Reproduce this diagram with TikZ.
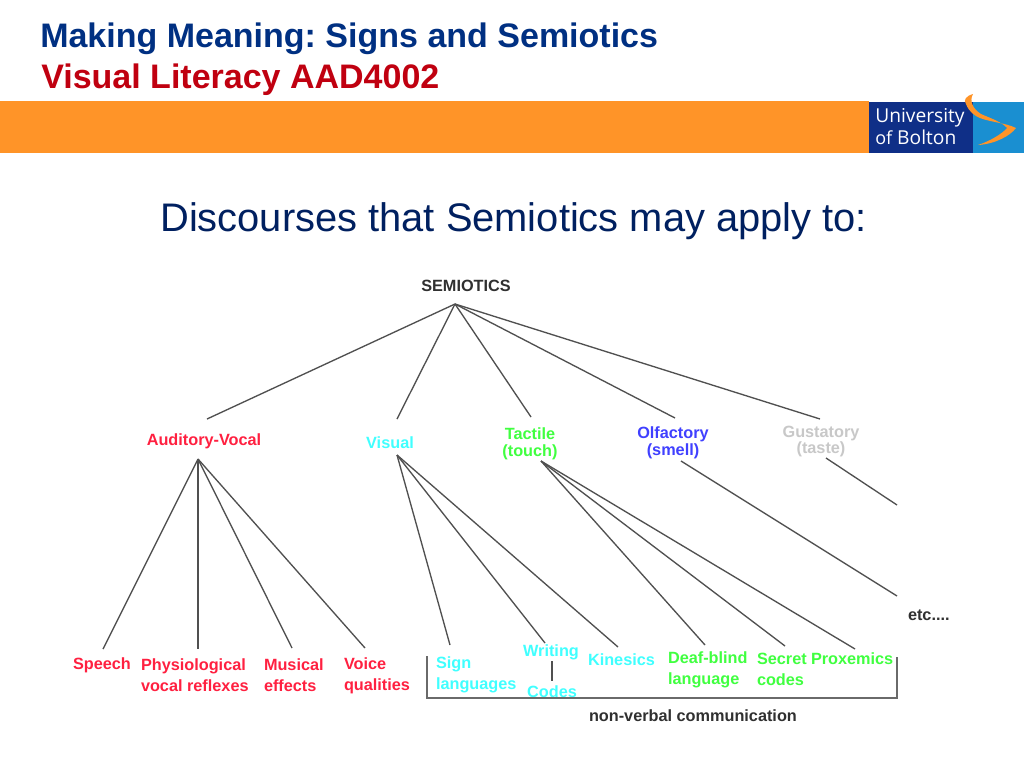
\documentclass[tikz,border=0pt]{standalone}
\usepackage{fontspec}
\setmainfont{Liberation Sans}
\newfontfamily\logofont{Open Sans}
\frenchspacing
\definecolor{titleblue}{HTML}{003082}
\definecolor{titlered}{HTML}{C00010}
\definecolor{bandorange}{HTML}{FF9428}
\definecolor{logodark}{HTML}{0F2F87}
\definecolor{logolight}{HTML}{1A8FD1}
\definecolor{headblue}{HTML}{002060}
\definecolor{dred}{HTML}{FF2040}
\definecolor{dcyan}{HTML}{40FFFF}
\definecolor{dgreen}{HTML}{40FF40}
\definecolor{dblue}{HTML}{4040FF}
\definecolor{dgray}{HTML}{C8C8C8}
\definecolor{ddark}{HTML}{303030}
\definecolor{linegray}{HTML}{505050}
\tikzset{
  lab/.style={inner sep=0pt,outer sep=0pt,align=left,yshift=-0.75pt,font=\fontsize{12.2}{15.75}\selectfont\bfseries},
  tight/.style={font=\fontsize{12.2}{13}\selectfont\bfseries},
  conn/.style={draw=linegray,line width=1pt},
  brack/.style={draw=linegray!85!white,line width=1.2pt},
  titletext/.style={inner sep=0pt,anchor=base west,font=\fontsize{25.5}{28}\selectfont\bfseries},
  logotext/.style={inner sep=0pt,anchor=base west,text=white}
}
\begin{document}
\begin{tikzpicture}[x=0.75pt,y=-0.75pt]
\useasboundingbox (0,0) rectangle (1024,768);
\fill[white] (0,0) rectangle (1024,768);
% header
\fill[bandorange] (0,101) rectangle (869,153);
\fill[logodark] (869,102) rectangle (973,153);
\fill[logolight] (973,102) rectangle (1024,153);
\fill[bandorange] (973,94) .. controls (966,96) and (963,100) .. (966,104)
  .. controls (969,112) and (975,116) .. (980,118)
  .. controls (990,122) and (1006,123) .. (1016,128)
  .. controls (1010,136) and (995,144) .. (978,145)
  .. controls (990,141) and (1002,134) .. (1007,128)
  .. controls (1002,122) and (990,118) .. (981,114)
  .. controls (973,109) and (969,101) .. (973,94) -- cycle;
\node[logotext,font=\logofont\fontsize{14.4}{18}\selectfont] (uni) at (875,122) {University};
\node[logotext,font=\logofont\fontsize{14.4}{18}\selectfont] (bolton) at (875,144) {{\fontsize{13.5}{18}\selectfont of} Bolton};
\node[titletext,text=titleblue] (t1) at (40,47) {Making Meaning: Signs and Semiotics};
\node[titletext,text=titlered] (t2) at (41,88) {Visual Literacy AAD4002};
\node[inner sep=0pt,anchor=base west,text=headblue,font=\fontsize{29.9}{34}\selectfont] (head) at (160,231) {Discourses that Semiotics may apply to:};
% labels
\node[lab,text=ddark] (semi) at (466,285) {SEMIOTICS};
\node[lab,text=dred] (aud) at (204,440.5) {Auditory-Vocal};
\node[lab,text=dcyan] (vis) at (390,442) {Visual};
\node[lab,text=dgreen,align=center,tight] (tac) at (530,443) {Tactile\\(touch)};
\node[lab,text=dblue,align=center,tight] (olf) at (673,441.5) {Olfactory\\(smell)};
\node[lab,text=dgray,align=center,font=\fontsize{12.2}{10.5}\selectfont\bfseries] (gus) at (821,440.5) {Gustatory\\(taste)};
\node[lab,text=dred,anchor=west] (speech) at (73,664) {Speech};
\node[lab,text=dred,anchor=west] (phys) at (141,674.5) {Physiological\\vocal reflexes};
\node[lab,text=dred,anchor=west] (mus) at (264,674.5) {Musical\\effects};
\node[lab,text=dred,anchor=west] (voice) at (344,674.5) {Voice\\qualities};
\node[lab,text=dcyan,anchor=west] (sign) at (436,673.5) {Sign\\languages};
\node[lab,text=dcyan] (writ) at (551,651) {Writing};
\node[lab,text=dcyan] (codes) at (552,691) {Codes};
\node[lab,text=dcyan,anchor=west] (kin) at (588,659) {Kinesics};
\node[lab,text=dgreen,anchor=west] (deaf) at (668,668.5) {Deaf-blind\\language};
\node[lab,text=dgreen,anchor=west] (secret) at (757,668.5) {Secret\\codes};
\node[lab,text=dgreen,anchor=west] (prox) at (811,658) {Proxemics};
\node[lab,text=ddark,anchor=west] (etc) at (908,614) {etc....};
\node[lab,text=ddark,anchor=west] (nonv) at (589,715) {non-verbal communication};
% connector ends
\coordinate (semiB) at (455,304);
\coordinate (audT) at (207,419);
\coordinate (visT) at (397,419);
\coordinate (tacT) at (531,417);
\coordinate (olfT) at (675,418);
\coordinate (gusT) at (820,419);
\coordinate (audB) at (198,459);
\coordinate (visB) at (397,455);
\coordinate (tacB) at (541,461);
\coordinate (olfB) at (681,461);
\coordinate (gusB) at (826,458);
\coordinate (speechT) at (103,649);
\coordinate (physT) at (198,649);
\coordinate (musT) at (292,648);
\coordinate (voiceT) at (365,648);
\coordinate (signT) at (450,645);
\coordinate (writT) at (545,643);
\coordinate (kinT) at (618,647);
\coordinate (deafT) at (705,645);
\coordinate (secretT) at (785,646);
\coordinate (proxT) at (855,649);
\coordinate (etcT) at (897,596);
\coordinate (gusEnd) at (897,505);
\coordinate (writB) at (552,661);
\coordinate (codesT) at (552,681);
\coordinate (brL) at (427,656);
\coordinate (brLB) at (427,698);
\coordinate (brRB) at (897,698);
\coordinate (brR) at (897,657);
% connectors
\foreach \e in {audT,visT,tacT,olfT,gusT} \draw[conn] (semiB) -- (\e);
\foreach \e in {speechT,physT,musT,voiceT} \draw[conn] (audB) -- (\e);
\foreach \e in {signT,writT,kinT} \draw[conn] (visB) -- (\e);
\foreach \e in {deafT,secretT,proxT} \draw[conn] (tacB) -- (\e);
\draw[conn] (olfB) -- (etcT);
\draw[conn] (gusB) -- (gusEnd);
\draw[conn] (writB) -- (codesT);
\draw[brack] (brL) -- (brLB) -- (brRB) -- (brR);
\end{tikzpicture}
\end{document}
